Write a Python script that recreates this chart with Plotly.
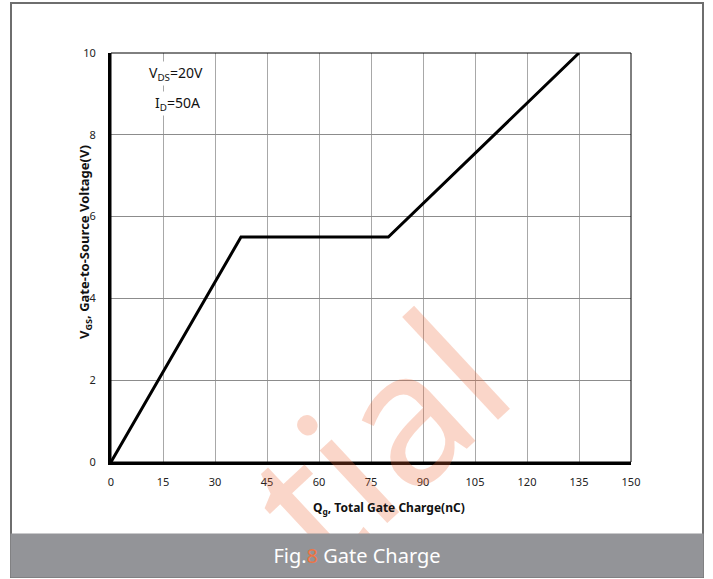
import plotly.graph_objects as go

# Gate charge curve: V_GS versus total gate charge Q_g
qg_nc = [0, 37.5, 80, 135]
vgs_v = [0, 5.5, 5.5, 10]

x_ticks = [0, 15, 30, 45, 60, 75, 90, 105, 120, 135, 150]
y_ticks = [0, 2, 4, 6, 8, 10]

W, H = 713, 579
L, R, T, B = 111, 631, 53, 462  # plot area in pixels


def px(xp):
    return (xp - L) / (R - L)


def py(yp):
    return (B - yp) / (B - T)


FONT = "Noto Sans"

fig = go.Figure()
fig.add_trace(go.Scatter(
    x=qg_nc, y=vgs_v, mode="lines",
    line=dict(color="black", width=3),
    hoverinfo="skip", showlegend=False,
))

fig.update_layout(
    width=W, height=H,
    margin=dict(l=L, r=W - R, t=T, b=H - B),
    paper_bgcolor="white", plot_bgcolor="rgba(0,0,0,0)",
    font=dict(family=FONT, size=11, color="#222"),
    showlegend=False,
)

fig.update_xaxes(
    range=[0, 150], tickvals=x_ticks, ticktext=[str(v) for v in x_ticks],
    showgrid=True, gridcolor="#a8a8a8", gridwidth=1,
    showline=True, linecolor="black", linewidth=3,
    zeroline=False, ticks="", ticklabelstandoff=8,
    tickfont=dict(family=FONT, size=11, color="#222"),
    fixedrange=True,
)
fig.update_yaxes(
    range=[0, 10], tickvals=y_ticks, ticktext=[str(v) for v in y_ticks],
    showgrid=True, gridcolor="#8c8c8c", gridwidth=1,
    showline=True, linecolor="black", linewidth=3,
    zeroline=False, ticks="", ticklabelstandoff=10,
    tickfont=dict(family=FONT, size=11, color="#222"),
    fixedrange=True,
)

shapes = [
    # thin box around the plot area
    dict(type="rect", xref="x domain", yref="y domain", x0=0, x1=1, y0=0, y1=1,
         line=dict(color="black", width=1), fillcolor="rgba(0,0,0,0)", layer="above"),
    # outer frame
    dict(type="rect", xref="paper", yref="paper",
         x0=px(11), x1=px(703), y0=py(577), y1=py(3),
         line=dict(color="#6e6e6e", width=2), fillcolor="rgba(0,0,0,0)", layer="below"),
]
fig.update_layout(shapes=shapes)

annotations = [
    # watermark
    dict(text="tial", xref="paper", yref="paper", x=px(375), y=py(436),
         xanchor="center", yanchor="middle", showarrow=False, textangle=-43,
         font=dict(family=FONT, size=185, color="rgba(235,105,55,0.27)")),
    # banner with figure caption
    dict(text="Fig.<span style='color:#ee7445'>8</span> Gate Charge",
         xref="paper", yref="paper", x=px(357), y=py(555.5),
         xanchor="center", yanchor="middle", showarrow=False,
         width=692, height=43, bgcolor="#939498", borderpad=0,
         font=dict(family=FONT, size=20, color="white")),
    # test conditions
    dict(text="V<sub>DS</sub>=20V", xref="paper", yref="paper", x=px(176), y=py(74),
         xanchor="center", yanchor="middle", showarrow=False, bgcolor="white",
         font=dict(family=FONT, size=14, color="#111")),
    dict(text="I<sub>D</sub>=50A", xref="paper", yref="paper", x=px(177), y=py(103),
         xanchor="center", yanchor="middle", showarrow=False, bgcolor="white",
         font=dict(family=FONT, size=14, color="#111")),
    # axis titles
    dict(text="<b>Q<sub>g</sub>, Total Gate Charge(nC)</b>", xref="paper", yref="paper",
         x=px(389), y=py(508), xanchor="center", yanchor="middle", showarrow=False,
         font=dict(family=FONT, size=12, color="#111")),
    dict(text="<b>V<sub>GS</sub>, Gate-to-Source Voltage(V)</b>", xref="paper", yref="paper",
         x=px(85), y=py(242), xanchor="center", yanchor="middle", showarrow=False,
         textangle=-90, font=dict(family=FONT, size=13, color="#111")),
]
fig.update_layout(annotations=annotations)

fig.write_html("out.html")
